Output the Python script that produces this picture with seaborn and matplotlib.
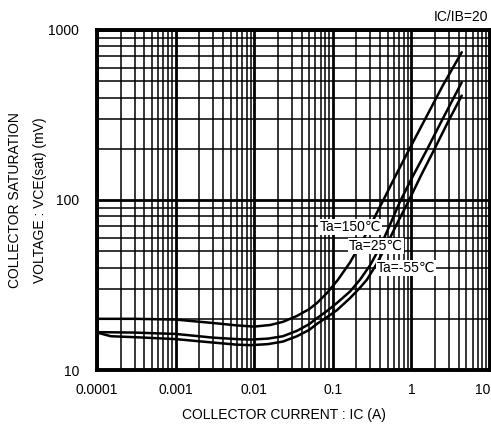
import matplotlib
matplotlib.use("Agg")
import matplotlib.pyplot as plt
import matplotlib.ticker as mticker
import matplotlib.transforms as mtransforms
import seaborn as sns
import pandas as pd
import numpy as np

# ---- data ----
ic_150 = [1e-4, 3e-4, 1e-3, 3e-3, 6e-3, 0.01, 0.016, 0.0232, 0.035, 0.05, 0.063, 0.085,
          0.116, 0.166, 0.25, 0.33, 0.44, 0.65, 0.93, 1.5, 2.5, 4.37]
vce_150 = [20.0, 20.0, 19.8, 18.9, 18.3, 18.0, 18.4, 19.2, 20.8, 22.8, 24.8, 28.5,
           33.9, 43.0, 60.0, 77.0, 100.0, 143.0, 197.0, 300.0, 470.0, 740.0]

ic_25 = [1e-4, 3e-4, 1e-3, 3e-3, 6e-3, 9e-3, 0.015, 0.0232, 0.035, 0.05, 0.063, 0.085,
         0.113, 0.166, 0.222, 0.3, 0.4, 0.53, 0.716, 1.0, 1.57, 2.5, 4.37]
vce_25 = [16.7, 16.6, 16.3, 15.5, 15.2, 15.1, 15.3, 15.8, 17.0, 18.6, 20.2, 22.3,
          24.8, 29.0, 34.0, 41.5, 53.0, 71.0, 97.8, 133.0, 197.0, 300.0, 492.0]

ic_m55 = [1e-4, 1.5e-4, 3e-4, 1e-3, 3e-3, 6e-3, 9e-3, 0.015, 0.0232, 0.035, 0.05, 0.063,
          0.085, 0.113, 0.166, 0.222, 0.272, 0.36, 0.48, 0.65, 0.914, 1.3, 1.94, 3.0, 4.37]
vce_m55 = [16.6, 15.8, 15.6, 15.2, 14.5, 14.1, 14.0, 14.2, 14.7, 15.8, 17.2, 18.7,
           20.5, 22.5, 26.5, 30.5, 34.0, 42.0, 54.0, 72.0, 97.8, 137.0, 197.0, 295.0, 411.0]

series_names = ["Ta=150℃", "Ta=25℃", "Ta=-55℃"]
x_ticks = [1e-4, 1e-3, 1e-2, 1e-1, 1, 10]
x_ticklabels = ["0.0001", "0.001", "0.01", "0.1", "1", "10"]
y_ticks = [10, 100, 1000]
y_ticklabels = ["10", "100", "1000"]

df = pd.concat([
    pd.DataFrame({"IC": ic_150, "VCE": vce_150, "T": series_names[0]}),
    pd.DataFrame({"IC": ic_25, "VCE": vce_25, "T": series_names[1]}),
    pd.DataFrame({"IC": ic_m55, "VCE": vce_m55, "T": series_names[2]}),
])

sns.set_theme(style="white")
plt.rcParams["font.family"] = ["Liberation Sans", "DejaVu Sans"]

fig = plt.figure(figsize=(4.91, 4.24), dpi=100)
W, H = 491, 424
ax = fig.add_axes([97 / W, 1 - 370 / H, (490 - 97) / W, (370 - 30) / H])

sns.lineplot(data=df, x="IC", y="VCE", hue="T", palette=["black"] * 3,
             legend=False, linewidth=1.8, ax=ax, sort=False, zorder=3)
for ln in ax.get_lines():
    ln.set_solid_joinstyle("round")
    ln.set_solid_capstyle("round")

ax.set_xscale("log")
ax.set_yscale("log")
ax.set_xlim(1e-4, 10)
ax.set_ylim(10, 1000)

ax.xaxis.set_major_locator(mticker.FixedLocator(x_ticks))
ax.xaxis.set_major_formatter(mticker.FixedFormatter(x_ticklabels))
ax.yaxis.set_major_locator(mticker.FixedLocator(y_ticks))
ax.yaxis.set_major_formatter(mticker.FixedFormatter(y_ticklabels))
ax.xaxis.set_minor_locator(mticker.LogLocator(base=10, subs=np.arange(2, 10), numticks=20))
ax.yaxis.set_minor_locator(mticker.LogLocator(base=10, subs=np.arange(2, 10), numticks=20))
ax.xaxis.set_minor_formatter(mticker.NullFormatter())
ax.yaxis.set_minor_formatter(mticker.NullFormatter())

ax.grid(which="major", color="black", linewidth=2.0)
ax.grid(which="minor", color="black", linewidth=1.1)
ax.set_axisbelow(True)

ax.tick_params(which="both", length=0)
ax.tick_params(axis="x", pad=9, labelsize=10, colors="black")
ax.tick_params(axis="y", pad=13, labelsize=10, colors="black")
for sp in ax.spines.values():
    sp.set_color("black")
    sp.set_linewidth(2.8)
    sp.set_visible(True)

# keep the last x tick label inside the figure (reference shifts it left)
fig.canvas.draw()
last = ax.get_xticklabels()[-1]
last.set_transform(last.get_transform() +
                   mtransforms.ScaledTranslation(-7 / 100, 0, fig.dpi_scale_trans))

ax.set_xlabel("")
ax.set_ylabel("")

# curve labels (with white background hiding the lines)
label_pos = [(350, 227), (376, 246), (406, 268)]
for name, (px, py) in zip(series_names, label_pos):
    fig.text(px / W, 1 - py / H, name, ha="center", va="center", fontsize=10,
             color="black", zorder=5,
             bbox=dict(facecolor="white", edgecolor="none", pad=0.6))

fig.text(488 / W, 1 - 17 / H, "IC/IB=20", ha="right", va="center", fontsize=10, color="black")
fig.text(284 / W, 1 - 415 / H, "COLLECTOR CURRENT : IC (A)", ha="center", va="center",
         fontsize=10, color="black")
fig.text(15 / W, 1 - 200 / H, "COLLECTOR SATURATION", ha="center", va="center",
         rotation=90, fontsize=10, color="black")
fig.text(40 / W, 1 - 200 / H, "VOLTAGE : VCE(sat) (mV)", ha="center", va="center",
         rotation=90, fontsize=10, color="black")

fig.savefig("out.png", dpi=100, facecolor="white")
